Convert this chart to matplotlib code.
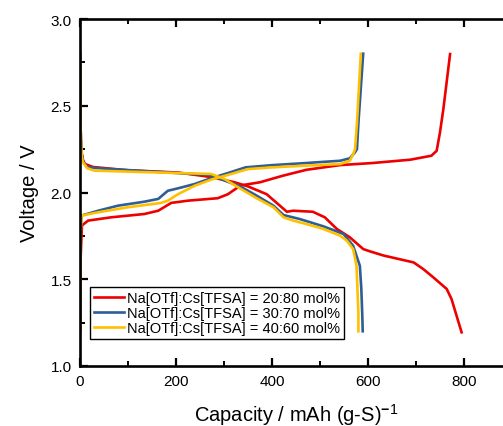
import matplotlib
matplotlib.use('Agg')
import matplotlib.pyplot as plt

plt.rcParams['font.family'] = ['Liberation Sans', 'DejaVu Sans']
plt.rcParams['mathtext.fontset'] = 'custom'
plt.rcParams['mathtext.rm'] = 'Liberation Sans'
plt.rcParams['mathtext.it'] = 'Liberation Sans'
plt.rcParams['mathtext.bf'] = 'Liberation Sans:bold'

# 20:80 mol%
red_chg_x = [0, 0.5, 1, 4, 17, 65, 134, 163, 190, 225, 287, 308, 329, 333, 375, 423, 472,
             542, 610, 688, 732, 743, 750, 757, 771]
red_chg_y = [1.20, 1.35, 1.60, 1.81, 1.838, 1.857, 1.876, 1.895, 1.94, 1.953, 1.967, 1.99, 2.03,
             2.04, 2.059, 2.097, 2.131, 2.158, 2.17, 2.189, 2.212, 2.24, 2.347, 2.481, 2.798]
red_dis_x = [0, 0.5, 1, 2, 3.5, 6, 10, 27, 100, 205, 273, 322, 350, 389, 431, 444, 485, 510,
             535, 562, 590, 605, 632, 695, 715, 736, 764, 774, 795]
red_dis_y = [2.8, 2.6, 2.4, 2.3, 2.23, 2.19, 2.165, 2.147, 2.128, 2.115, 2.089, 2.059, 2.035,
             1.99, 1.889, 1.895, 1.889, 1.857, 1.79, 1.742, 1.674, 1.66, 1.637, 1.597, 1.559,
             1.511, 1.444, 1.386, 1.194]

# 30:70 mol%
blue_chg_x = [0, 0.5, 1, 3, 38, 79, 134, 163, 183, 204, 239, 273, 308, 345, 402, 472, 542,
              562, 573, 577, 580, 585, 590]
blue_chg_y = [1.2, 1.5, 1.75, 1.867, 1.895, 1.924, 1.947, 1.963, 2.01, 2.024, 2.049, 2.082,
              2.112, 2.145, 2.158, 2.17, 2.183, 2.197, 2.232, 2.25, 2.4, 2.6, 2.8]
blue_dis_x = [0, 0.5, 1, 2, 3.5, 6, 15, 65, 204, 273, 300, 333, 368, 403, 424, 458, 507, 549,
              569, 583, 586, 588, 589]
blue_dis_y = [2.8, 2.6, 2.4, 2.3, 2.22, 2.18, 2.145, 2.135, 2.112, 2.1, 2.07, 2.036, 1.982,
              1.924, 1.87, 1.847, 1.805, 1.761, 1.693, 1.578, 1.45, 1.3, 1.2]

# 40:60 mol%
yel_chg_x = [0, 0.5, 1, 3, 38, 100, 169, 183, 204, 239, 273, 308, 350, 402, 472, 542, 562,
             569, 573, 577, 581, 585]
yel_chg_y = [1.2, 1.5, 1.75, 1.867, 1.886, 1.915, 1.94, 1.953, 1.99, 2.039, 2.074, 2.101,
             2.135, 2.145, 2.155, 2.164, 2.183, 2.22, 2.25, 2.4, 2.6, 2.8]
yel_dis_x = [0, 0.5, 1, 2, 3.5, 6, 15, 30, 204, 273, 301, 333, 368, 403, 424, 444, 472, 507,
             542, 556, 569, 576, 578, 580, 580]
yel_dis_y = [2.8, 2.6, 2.4, 2.3, 2.21, 2.175, 2.14, 2.126, 2.112, 2.107, 2.078, 2.024, 1.967,
             1.915, 1.857, 1.838, 1.818, 1.79, 1.751, 1.722, 1.674, 1.578, 1.45, 1.3, 1.2]

labels = ['Na[OTf]:Cs[TFSA] = 20:80 mol%',
          'Na[OTf]:Cs[TFSA] = 30:70 mol%',
          'Na[OTf]:Cs[TFSA] = 40:60 mol%']
RED = '#EE0000'
BLUE = '#2E5E96'
YELLOW = '#FFC000'

fig = plt.figure(figsize=(5.03, 4.27), dpi=100)
ax = fig.add_axes([80 / 503, 60 / 427, 432 / 503, 347 / 427])

lw = 1.9
ax.plot(red_dis_x, red_dis_y, color=RED, lw=lw, label=labels[0])
ax.plot(red_chg_x, red_chg_y, color=RED, lw=lw)
ax.plot(blue_dis_x, blue_dis_y, color=BLUE, lw=lw, label=labels[1])
ax.plot(blue_chg_x, blue_chg_y, color=BLUE, lw=lw)
ax.plot(yel_dis_x, yel_dis_y, color=YELLOW, lw=lw, label=labels[2])
ax.plot(yel_chg_x, yel_chg_y, color=YELLOW, lw=lw)

ax.set_xlim(0, 900)
ax.set_ylim(1.0, 3.0)
ax.set_xticks([0, 200, 400, 600, 800])
ax.set_xticks([100, 300, 500, 700], minor=True)
ax.set_yticks([1.0, 1.5, 2.0, 2.5, 3.0])
ax.set_yticks([1.25, 1.75, 2.25, 2.75], minor=True)

for s in ax.spines.values():
    s.set_linewidth(1.9)
ax.tick_params(which='major', direction='in', length=6, width=1.6, labelsize=11,
               top=True, right=True, pad=6)
ax.tick_params(which='minor', direction='in', length=3.5, width=1.4, top=True, right=True)

ax.set_xlabel(r'Capacity / mAh (g-S)$^{\mathbf{-}1}$', fontsize=14.5, labelpad=9)
ax.set_ylabel('Voltage / V', fontsize=14.5, labelpad=8)

leg = ax.legend(loc='lower left', bbox_to_anchor=(0.023, 0.078), borderaxespad=0,
                fontsize=10.5, handlelength=2.1, handletextpad=0.2, labelspacing=0.08,
                borderpad=0.25, fancybox=False, framealpha=1)
leg.get_frame().set_edgecolor('black')
leg.get_frame().set_linewidth(1.0)

fig.savefig('out.png', dpi=100)
